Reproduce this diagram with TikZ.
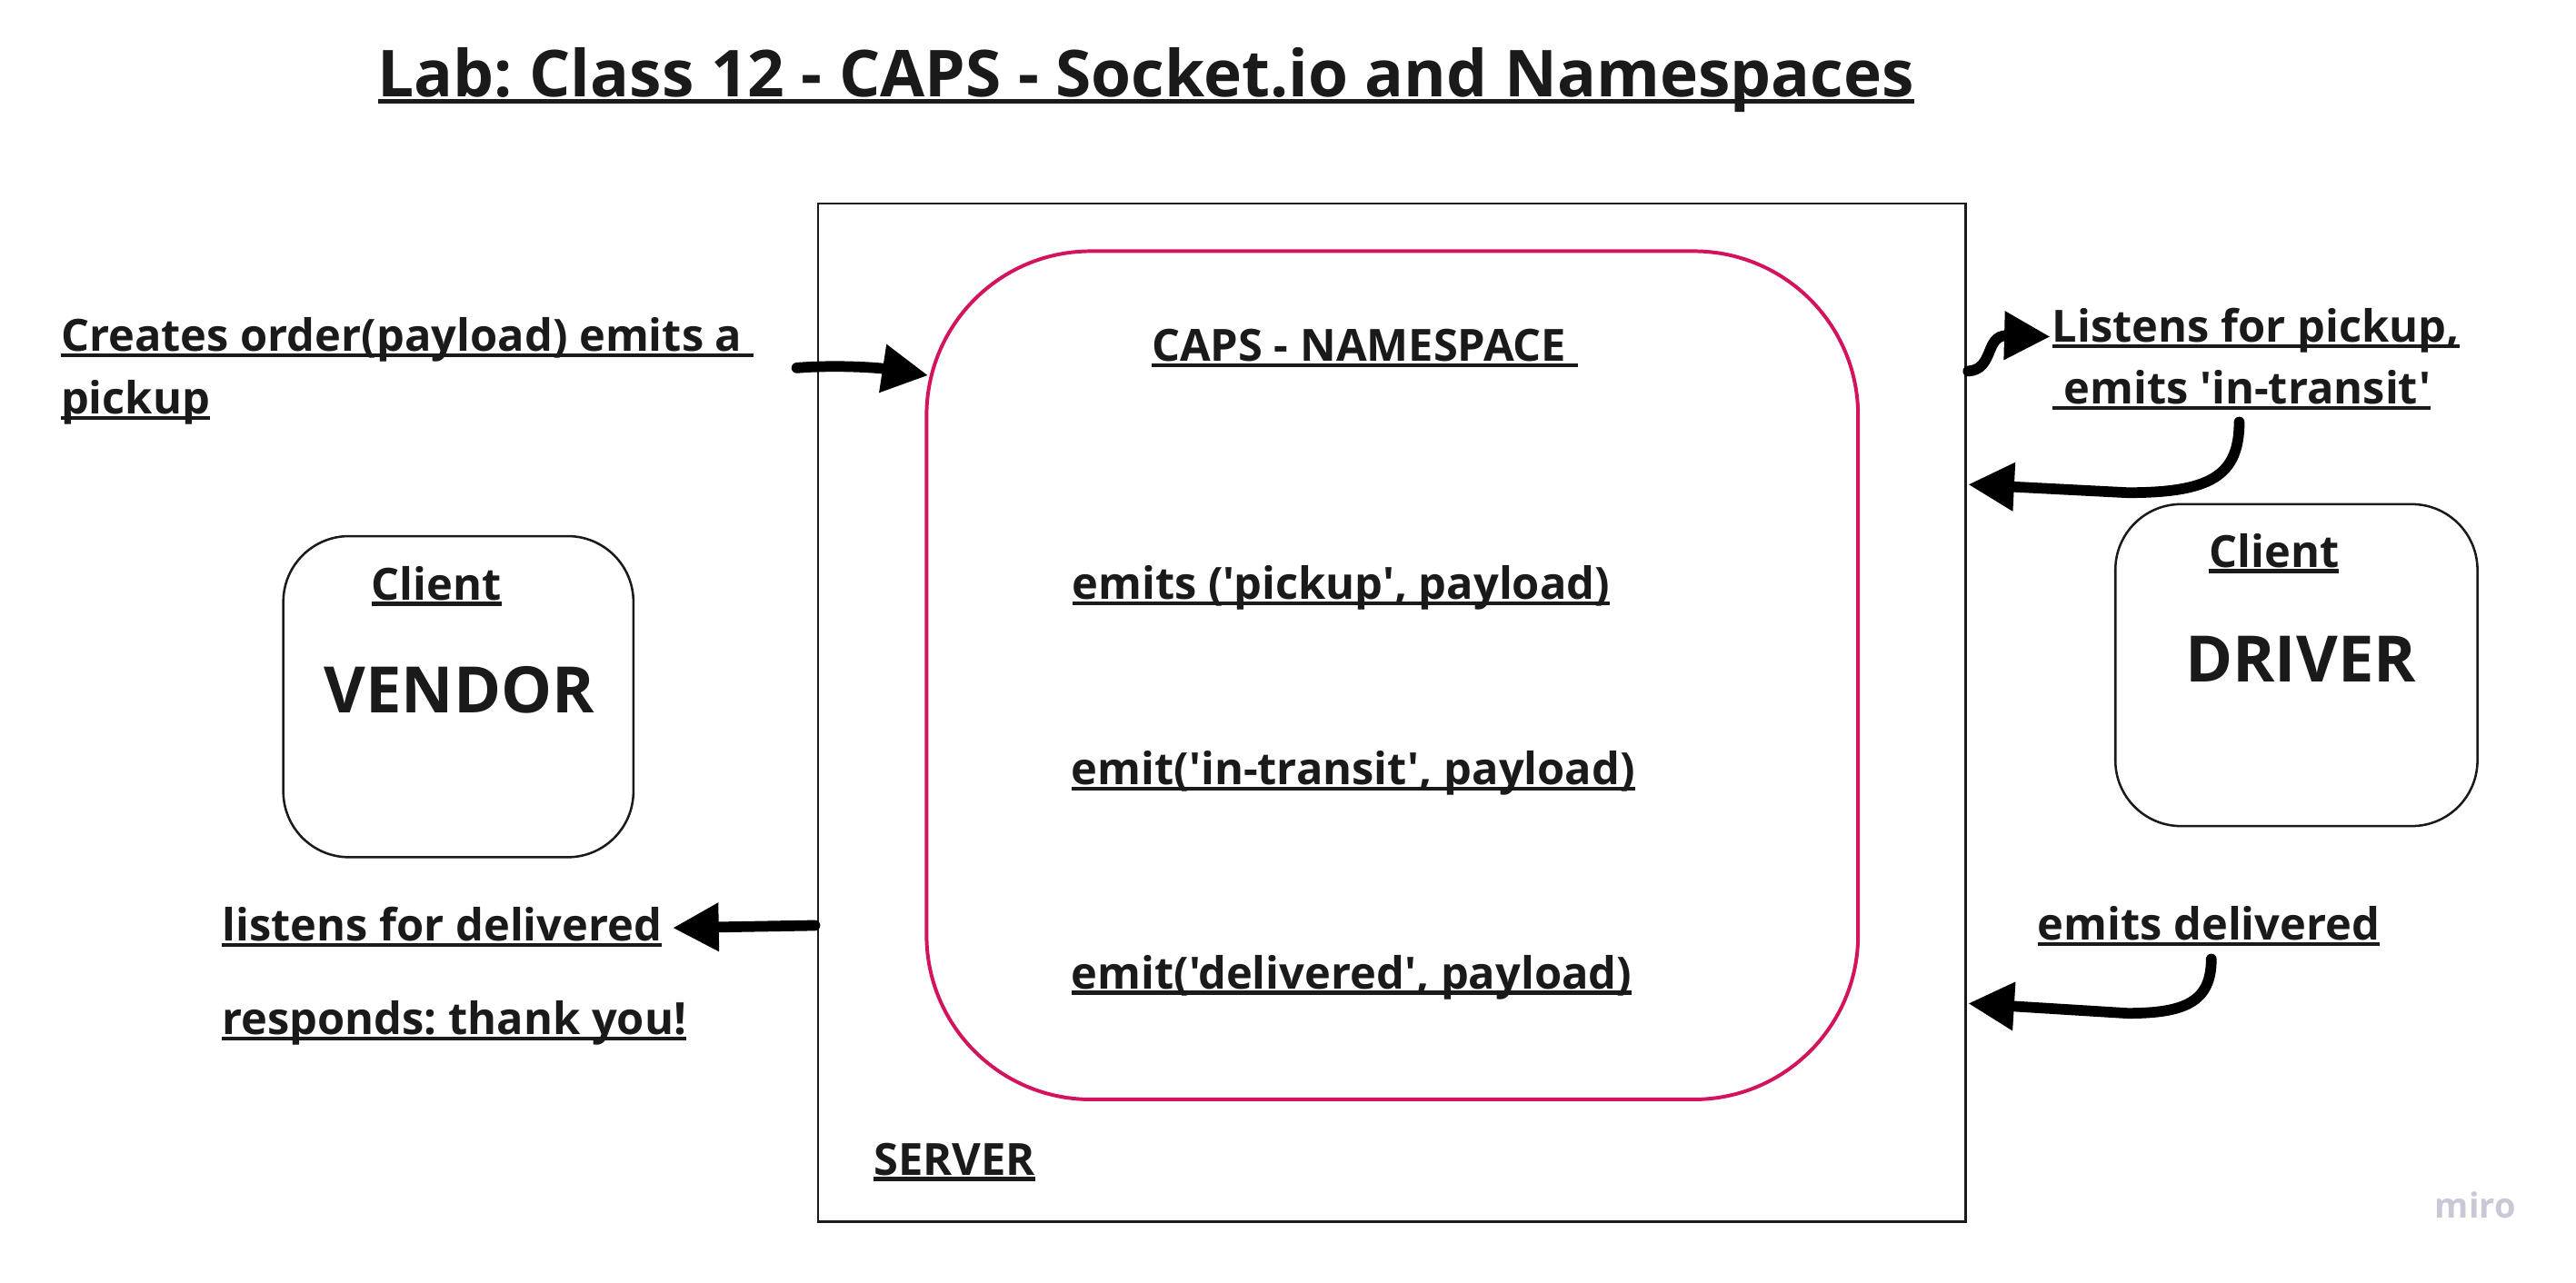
\documentclass[tikz,border=0pt]{standalone}
\usepackage{fontspec}
\newfontfamily\boardfont{Open Sans}
\usetikzlibrary{arrows.meta}
\frenchspacing

\definecolor{ink}{HTML}{1A1A1A}
\definecolor{nspink}{HTML}{D3135E}
\definecolor{mirogray}{HTML}{C8C8D6}

% underline that sits right under the baseline
\newsavebox{\ulbox}
\newcommand{\ul}[1]{\leavevmode\sbox{\ulbox}{#1}%
  \rlap{\rule[-3.6pt]{\wd\ulbox}{2.3pt}}\usebox{\ulbox}}

\tikzset{
  note/.style={font=\boardfont\bfseries\fontsize{27}{38}\selectfont, text=ink,
    inner sep=0pt, align=left, anchor=base west},
  bignote/.style={note, font=\boardfont\bfseries\fontsize{39}{44}\selectfont},
  clientbox/.style={draw=ink, line width=1.4pt, rounded corners=40pt, inner sep=0pt},
  flow/.style={draw=black, line width=6.5pt, -{Triangle[length=28pt,width=28pt]}}
}

\begin{document}
\begin{tikzpicture}[x=1pt, y=-1pt, line cap=round]
    \useasboundingbox (0,0) rectangle (1568,780.7);

    % title
    \node[bignote, font=\boardfont\bfseries\fontsize{39.4}{44}\selectfont, anchor=base]
      (title) at (697.5,59.2) {\ul{Lab: Class 12 - CAPS - Socket.io and Namespaces}};

    % server with the namespace inside
    \node[draw=ink, line width=1.4pt, inner sep=0pt,
          minimum width=698.5pt, minimum height=620pt] (server) at (847.2,434) {};
    \node[draw=nspink, line width=2.2pt, rounded corners=100pt, inner sep=0pt,
          minimum width=567pt, minimum height=516.5pt] (ns) at (847.5,411.2) {};

    \node[note] (nstitle)   at (700.8,219.8) {\ul{CAPS - NAMESPACE\ }};
    \node[note] (emitpick)  at (652.5,364.7) {\ul{emits ('pickup', payload)}};
    \node[note] (emittrans) at (652,478)     {\ul{emit('in-transit', payload)}};
    \node[note] (emitdeliv) at (652,602)     {\ul{emit('delivered', payload)}};
    \node[note] (srvlabel)  at (531.7,715.4) {\ul{SERVER}};

    % clients
    \node[clientbox, minimum width=213.1pt, minimum height=195.5pt] (vendor) at (279,424.2) {};
    \node[note] (vclient) at (225.9,365.2) {\ul{Client}};
    \node[bignote] (vname) at (197,434.3) {VENDOR};

    \node[clientbox, minimum width=220.4pt, minimum height=196pt] (driver) at (1397.8,405) {};
    \node[note] (dclient) at (1344.5,345.3) {\ul{Client}};
    \node[bignote] (dname) at (1330,415.3) {DRIVER};

    % what each side does (base = last line)
    \node[note] (order) at (36.9,252)
      {\ul{Creates order(payload) emits a\ }\\\ul{pickup}};
    \node[note] (pickup) at (1249,246.2)
      {\ul{Listens for pickup,}\\\ul{\ emits 'in-transit'}};
    \node[note] (thanks) at (135,629.8)
      {\ul{listens for delivered}\\[19pt]\ul{responds: thank you!}};
    \node[note] (delivered) at (1240,572.5) {\ul{emits delivered}};

    \node[font=\boardfont\bfseries\fontsize{21}{24}\selectfont, text=mirogray,
          anchor=base west, inner sep=0pt] (miro) at (1482,741.8) {miro};

    % arrow ends
    \coordinate (orderout) at (485,224);
    \coordinate (nsin)     at (565,228.6);
    \coordinate (srvpick)  at (1198,226);
    \coordinate (pickin)   at (1248,205);
    \coordinate (transout) at (1363,257);
    \coordinate (srvtrans) at (1198,295);
    \coordinate (srvdone)  at (496,563.5);
    \coordinate (donein)   at (409.5,565);
    \coordinate (delivout) at (1346,584);
    \coordinate (srvdeliv) at (1198,611);

    \draw[flow] (orderout) .. controls (510,222) and (535,224) .. (nsin);
    \draw[flow] (srvpick) .. controls (1214,225) and (1208,204) .. (pickin);
    \draw[flow] (transout) .. controls (1363,290) and (1345,300) .. (1295,300) -- (srvtrans);
    \draw[flow] (srvdone) -- (donein);
    \draw[flow] (delivout) .. controls (1346,610) and (1330,617) .. (1295,617) -- (srvdeliv);
\end{tikzpicture}
\end{document}
